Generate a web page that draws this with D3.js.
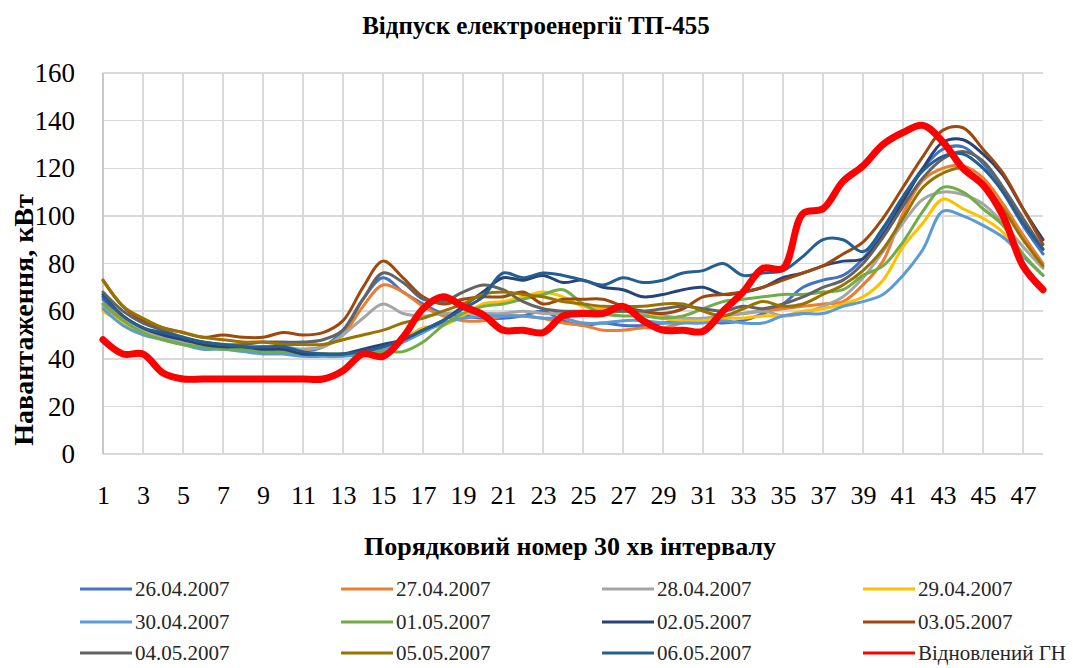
<!DOCTYPE html>
<html lang="uk">
<head>
<meta charset="UTF-8">
<script src="https://d3js.org/d3.v7.min.js"></script>
<title>Відпуск електроенергії ТП-455</title>
<style>
  body { margin: 0; background: #fff; }
  .grid line { stroke: #d9d9d9; stroke-width: 1.5; shape-rendering: crispEdges; }
  .series { fill: none; stroke-linejoin: round; stroke-linecap: round; }
</style>
</head>
<body>
<div id="chart"></div>
<script>
// 30-min interval numbers
var intervals = [1,2,3,4,5,6,7,8,9,10,11,12,13,14,15,16,17,18,19,20,21,22,23,24,
  25,26,27,28,29,30,31,32,33,34,35,36,37,38,39,40,41,42,43,44,45,46,47,48];
var xTickLabels = [1,3,5,7,9,11,13,15,17,19,21,23,25,27,29,31,33,35,37,39,41,43,45,47];
var yTickLabels = [0,20,40,60,80,100,120,140,160];

var seriesNames = ["26.04.2007","27.04.2007","28.04.2007","29.04.2007","30.04.2007","01.05.2007",
  "02.05.2007","03.05.2007","04.05.2007","05.05.2007","06.05.2007","Відновлений ГН"];

var s2604 = [65,57,52,50,47,46,45,44,43,43,43,45,52,65,74,68,63,59,58,57,57,58,60,56,
  54,55,54,54,55,56,56,55,56,59,63,70,73,75,82,94,108,120,128,129,122,110,96,84];
var s2704 = [63,57,52,49,47,46,45,44,44,44,44,45,50,62,71,68,62,58,56,56,58,58,57,55,
  54,52,52,53,53,55,56,58,59,60,61,62,63,64,71,81,101,115,120,121,116,105,92,80];
var s2804 = [62,56,52,49,47,46,45,45,45,45,44,45,50,57,63,59,58,59,59,59,59,60,59,59,
  59,59,60,59,58,57,57,58,59,60,58,59,62,66,74,85,97,107,110,109,105,97,87,78];
var s2904 = [60,55,51,48,46,45,45,44,44,43,43,42,42,43,45,48,53,54,58,63,64,66,68,66,
  62,61,60,60,57,56,56,57,57,58,58,60,61,63,66,73,87,97,107,103,99,93,80,70];
var s3004 = [61,54,50,48,46,44,44,43,42,42,41,41,41,42,44,47,51,55,57,58,58,58,57,57,
  55,55,56,56,55,55,55,56,55,55,58,59,59,62,64,67,75,86,102,100,96,91,83,75];
var s0105 = [63,56,51,48,46,45,44,44,43,43,42,42,42,42,43,43,47,54,59,62,63,65,67,69,
  63,59,58,58,57,58,61,64,65,66,67,67,68,69,75,79,89,102,112,110,103,96,84,75];
var s0205 = [67,58,53,50,48,46,45,45,44,44,42,42,42,44,46,48,52,56,62,68,74,73,75,72,
  73,70,69,66,67,69,70,67,68,70,74,76,79,81,82,92,106,120,131,132,126,117,103,90];
var s0305 = [73,62,56,53,51,49,50,49,49,51,50,51,56,70,81,74,66,63,65,66,66,68,63,65,
  65,65,62,60,59,61,66,67,68,70,73,76,79,84,89,99,112,125,136,137,128,118,103,88];
var s0405 = [68,60,55,52,49,47,46,46,47,47,47,48,52,65,76,72,65,64,68,71,69,64,61,60,
  60,60,60,60,61,62,61,60,62,61,63,66,70,73,80,91,104,116,124,127,123,112,99,86];
var s0505 = [73,62,57,53,51,49,48,47,47,46,46,46,48,50,52,55,57,60,63,67,68,67,66,64,
  63,62,62,62,63,63,60,58,61,64,62,63,67,71,77,86,99,112,118,120,113,103,90,79];
var s0605 = [66,58,53,51,49,47,46,45,45,45,43,42,42,43,45,48,52,56,61,66,76,74,76,75,
  73,71,74,72,73,76,77,80,75,76,77,83,90,90,85,95,108,119,125,126,120,110,97,86];
var restored = [48,42,42,34,31.5,31.5,31.5,31.5,31.5,31.5,31.5,31.5,35,42,41,49,61,66,62,58.5,52,52,51,58,
  59,59,62,56,52,52,51.5,60,68,78,78,101,103,114.5,121,130,135,138,131,120,113,100,79,69];

var seriesValues = [s2604,s2704,s2804,s2904,s3004,s0105,s0205,s0305,s0405,s0505,s0605,restored];
var colors = ["#4472c4","#ed7d31","#a5a5a5","#ffc000","#5b9bd5","#70ad47",
  "#264478","#9e480e","#636363","#997300","#255e91","#ff0000"];

var serif = "'Liberation Serif', 'Times New Roman', serif";
var width = 1073, height = 668;
var margin = {top: 73, right: 30, bottom: 214, left: 103};
var plotW = width - margin.left - margin.right,
    plotH = height - margin.top - margin.bottom;

var svg = d3.select("#chart").append("svg")
    .attr("width", width)
    .attr("height", height)
    .attr("font-family", serif);

var g = svg.append("g")
    .attr("transform", "translate(" + margin.left + "," + margin.top + ")");

var x = d3.scaleLinear().domain([1, 48]).range([0, plotW]);
var y = d3.scaleLinear().domain([0, 160]).range([plotH, 0]);

// gridlines
g.append("g").attr("class", "grid")
  .selectAll("line").data(yTickLabels).enter().append("line")
    .attr("x1", 0).attr("x2", plotW)
    .attr("y1", function(d) { return y(d); })
    .attr("y2", function(d) { return y(d); });

g.append("g").attr("class", "grid")
  .selectAll("line").data(xTickLabels).enter().append("line")
    .attr("x1", function(d) { return x(d); })
    .attr("x2", function(d) { return x(d); })
    .attr("y1", 0).attr("y2", plotH)
    .style("stroke", function(d) { return d === 1 ? "#c8c8c8" : null; });

// axes (labels only)
var yAxis = d3.axisLeft(y).tickValues(yTickLabels).tickSize(0).tickPadding(28);
g.append("g").call(yAxis)
    .attr("font-family", serif)
  .call(function(a) { a.select(".domain").remove(); })
  .selectAll("text")
    .attr("font-size", "27px")
    .attr("fill", "#000");

var xAxis = d3.axisBottom(x).tickValues(xTickLabels).tickSize(0).tickPadding(32);
g.append("g").attr("transform", "translate(0," + plotH + ")").call(xAxis)
    .attr("font-family", serif)
  .call(function(a) { a.select(".domain").remove(); })
  .selectAll("text")
    .attr("font-size", "26px")
    .attr("fill", "#000");

// lines
var line = d3.line()
    .x(function(d, i) { return x(intervals[i]); })
    .y(function(d) { return y(d); })
    .curve(d3.curveCatmullRom.alpha(0.5));

g.selectAll(".series")
    .data(seriesValues)
  .enter().append("path")
    .attr("class", "series")
    .attr("d", line)
    .attr("stroke", function(d, i) { return colors[i]; })
    .attr("stroke-width", function(d, i) { return i === 11 ? 7 : 3; });

// titles
svg.append("text")
    .attr("x", 536).attr("y", 34)
    .attr("text-anchor", "middle")
    .attr("font-size", "25px")
    .attr("font-weight", "bold")
    .text("Відпуск електроенергії ТП-455");

svg.append("text")
    .attr("x", 570).attr("y", 555)
    .attr("text-anchor", "middle")
    .attr("font-size", "26px")
    .attr("font-weight", "bold")
    .text("Порядковий номер  30 хв інтервалу");

svg.append("text")
    .attr("transform", "translate(33,320) rotate(-90)")
    .attr("text-anchor", "middle")
    .attr("font-size", "28px")
    .attr("font-weight", "bold")
    .text("Навантаження, кВт");

// legend
var colX = [80, 341, 602, 863], rowY = [589, 622, 653];
var legend = svg.selectAll(".legend")
    .data(seriesNames)
  .enter().append("g")
    .attr("class", "legend")
    .attr("transform", function(d, i) {
      return "translate(" + colX[i % 4] + "," + rowY[Math.floor(i / 4)] + ")";
    });

legend.append("line")
    .attr("x1", 0).attr("x2", 52)
    .attr("stroke", function(d, i) { return colors[i]; })
    .attr("stroke-width", 3);

legend.append("text")
    .attr("x", 55)
    .attr("dy", "0.35em")
    .attr("font-size", "21px")
    .attr("fill", "#262626")
    .text(function(d) { return d; });
</script>
</body>
</html>
